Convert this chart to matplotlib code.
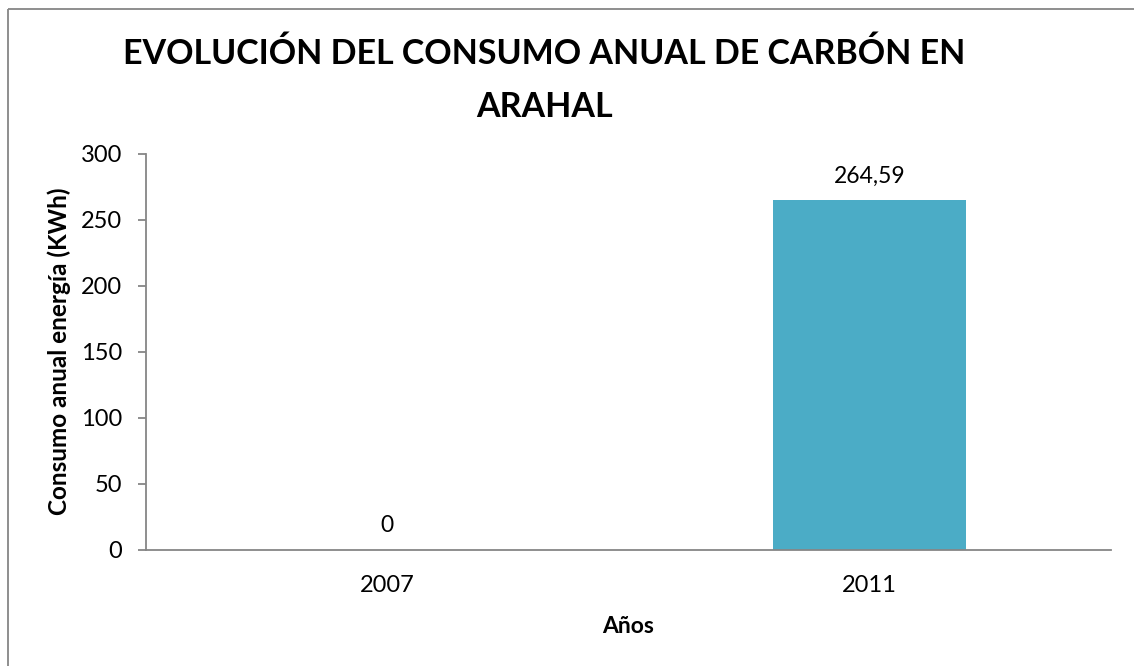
import matplotlib.pyplot as plt
from matplotlib.lines import Line2D

# data
years = ["2007", "2011"]
consumo = [0, 264.59]
etiquetas = ["0", "264,59"]
yticks = [0, 50, 100, 150, 200, 250, 300]

plt.rcParams['font.family'] = ['Lato', 'DejaVu Sans']

W, H = 1134, 666
fig = plt.figure(figsize=(W / 100, H / 100), dpi=100, facecolor="white")

def fx(px):
    return px / W

def fy(py):
    return 1 - py / H

# outer chart border: only its top and left edges fall inside the picture
gris = "#868686"
fig.lines.append(Line2D([fx(8), fx(8)], [fy(9), -0.01], transform=fig.transFigure,
                        color=gris, linewidth=1.3, solid_capstyle="butt"))
fig.lines.append(Line2D([fx(8), 1.01], [fy(9), fy(9)], transform=fig.transFigure,
                        color=gris, linewidth=1.3, solid_capstyle="butt"))

ax = fig.add_axes([fx(146), fy(549.5), fx(1111 - 146), (549.5 - 153.5) / H])

x = list(range(len(years)))
ax.bar(x, consumo, width=0.4, color="#4BACC6")
for xi, v, lab in zip(x, consumo, etiquetas):
    ax.annotate(lab, (xi, v), xytext=(0, 12.8), textcoords="offset points",
                ha="center", va="baseline", fontsize=16.5)

ax.set_xlim(-0.5, 1.5)
ax.set_ylim(0, 300)
ax.set_yticks(yticks)
ax.set_xticks(x)
ax.set_xticklabels(years)

ax.spines["top"].set_visible(False)
ax.spines["right"].set_visible(False)
for s in ["left", "bottom"]:
    ax.spines[s].set_color(gris)
    ax.spines[s].set_linewidth(1.3)
ax.tick_params(axis="y", length=5.8, width=1.3, color=gris, labelsize=17, pad=11.5)
ax.tick_params(axis="x", length=0, labelsize=17, pad=30.6)
for lbl in ax.get_xticklabels():
    lbl.set_va("baseline")

# axis titles
fig.text(fx(628.5), fy(633), "Años", ha="center", va="baseline",
         fontsize=16.5, fontweight="bold")
fig.text(fx(67), fy(351.5), "Consumo anual energía (KWh)", ha="center", va="baseline",
         rotation=90, rotation_mode="anchor", fontsize=17.5, fontweight="bold")

# chart title (two lines)
fig.text(fx(544), fy(64), "EVOLUCIÓN DEL CONSUMO ANUAL DE CARBÓN EN",
         ha="center", va="baseline", fontsize=24.5, fontweight="bold")
fig.text(fx(544), fy(117), "ARAHAL",
         ha="center", va="baseline", fontsize=24.5, fontweight="bold")

fig.savefig("out.png", dpi=100, facecolor="white")
